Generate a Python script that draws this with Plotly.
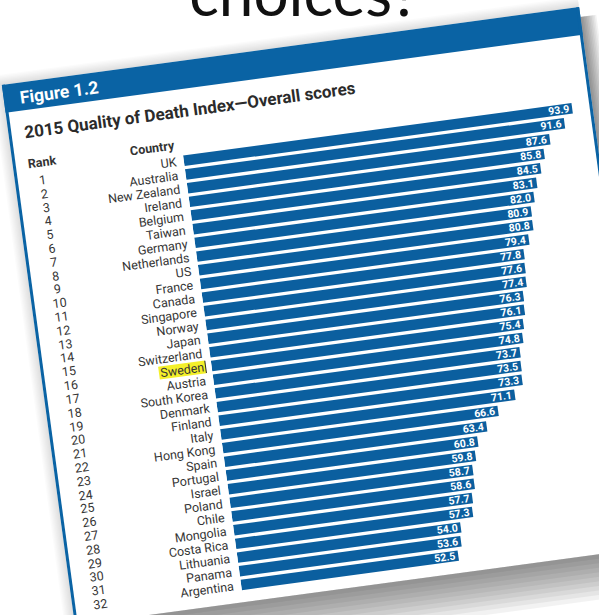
import math
import plotly.graph_objects as go

# ---------------- data ----------------
countries = ["UK", "Australia", "New Zealand", "Ireland", "Belgium", "Taiwan", "Germany",
             "Netherlands", "US", "France", "Canada", "Singapore", "Norway", "Japan",
             "Switzerland", "Sweden", "Austria", "South Korea", "Denmark", "Finland", "Italy",
             "Hong Kong", "Spain", "Portugal", "Israel", "Poland", "Chile", "Mongolia",
             "Costa Rica", "Lithuania", "Panama", "Argentina"]
scores = [93.9, 91.6, 87.6, 85.8, 84.5, 83.1, 82.0, 80.9, 80.8, 79.4, 77.8, 77.6, 77.4, 76.3,
          76.1, 75.4, 74.8, 73.7, 73.5, 73.3, 71.1, 66.6, 63.4, 60.8, 59.8, 58.7, 58.6, 57.7,
          57.3, 54.0, 53.6, 52.5]
ranks = ["1", "2", "3", "4", "5", "6", "7", "8", "9", "10", "11", "12", "13", "14", "15", "16",
         "17", "18", "19", "20", "21", "22", "23", "24", "25", "26", "27", "28", "29", "30",
         "31", "32"]
highlight = "Sweden"

fig_title = "2015 Quality of Death Index\u2014Overall scores"
figure_label = "Figure 1.2"
slide_text = "choices?"

# ---------------- layout constants ----------------
W, H = 700, 760
CX0, CY0 = 80, 140          # card top-left (unrotated frame)
CW, CH = 582, 545
XMAX = 98
PXU = 4.17
ROW = 13.97
ML = CX0 + 170
PW = XMAX * PXU
MT = CY0 + 90
PH = len(countries) * ROW
MR = W - ML - PW
MB = H - MT - PH

ANG = 7.7
BLUE = "#0b5f9f"
HEAD = "#0a63a4"
TXT = "#353535"
FONT = "Roboto"


def xp(X):
    return (X - ML) / PW


def yp(Y):
    return 1 - (Y - MT) / PH


# transform so that card corner lands at the photographed position
c, s = math.cos(math.radians(ANG)), math.sin(math.radians(ANG))
q0 = (2, 85)
rp = (c * CX0 + s * CY0, -s * CX0 + c * CY0)
T = (q0[0] - rp[0], q0[1] - rp[1])


def unrot(qx, qy):
    dx, dy = qx - T[0], qy - T[1]
    return (c * dx - s * dy, s * dx + c * dy)


fig = go.Figure()
fig.add_trace(go.Bar(
    x=scores, y=countries, orientation="h",
    marker=dict(color=BLUE, line=dict(width=0)),
    texttemplate="%{x:.1f}", textposition="inside", insidetextanchor="end",
    textangle=0, constraintext="none",
    textfont=dict(color="white", size=10.5, family=FONT, weight="bold"),
    hoverinfo="skip",
))

shapes = []
# shadows
for k in range(1, 11):
    shapes.append(dict(type="rect", xref="paper", yref="paper", layer="below",
                       x0=xp(CX0 + 2), x1=xp(CX0 + CW + k * 1.6),
                       y0=yp(CY0 + 10), y1=yp(CY0 + CH + k * 4.5),
                       fillcolor="rgba(0,0,0,0.05)", line=dict(width=0)))
for k in range(1, 9):
    shapes.append(dict(type="rect", xref="paper", yref="paper", layer="below",
                       x0=xp(CX0 - k * 1.3), x1=xp(CX0 + CW),
                       y0=yp(CY0 - k * 1.3), y1=yp(CY0 + CH),
                       fillcolor="rgba(0,0,0,0.015)", line=dict(width=0)))
# card
shapes.append(dict(type="rect", xref="paper", yref="paper", layer="below",
                   x0=xp(CX0), x1=xp(CX0 + CW), y0=yp(CY0), y1=yp(CY0 + CH),
                   fillcolor="white", line=dict(width=0)))
shapes.append(dict(type="rect", xref="paper", yref="paper", layer="below",
                   x0=xp(CX0), x1=xp(CX0 + CW), y0=yp(CY0), y1=yp(CY0 + 28),
                   fillcolor=HEAD, line=dict(width=0)))
shapes.append(dict(type="rect", xref="paper", yref="paper", layer="below",
                   x0=xp(CX0), x1=xp(CX0 + 3), y0=yp(CY0), y1=yp(CY0 + CH),
                   fillcolor=HEAD, line=dict(width=0)))
shapes.append(dict(type="rect", xref="paper", yref="paper", layer="below",
                   x0=xp(CX0 + CW - 3), x1=xp(CX0 + CW), y0=yp(CY0), y1=yp(CY0 + CH),
                   fillcolor=HEAD, line=dict(width=0)))
# highlight behind Sweden label
hi = countries.index(highlight)
shapes.append(dict(type="rect", xref="paper", yref="y", layer="below",
                   x0=xp(CX0 + 117), x1=xp(CX0 + 164), y0=hi - 0.47, y1=hi + 0.47,
                   fillcolor="#f4f02a", line=dict(width=0)))
shapes.append(dict(type="line", xref="paper", yref="y", layer="above",
                   x0=xp(CX0 + 164), x1=xp(CX0 + 164), y0=hi - 0.45, y1=hi + 0.45,
                   line=dict(color="#222", width=1)))

ann = []
ann.append(dict(text="<b>" + figure_label + "</b>", xref="paper", yref="paper",
                x=xp(CX0 + 14), y=yp(CY0 + 15), xanchor="left", yanchor="middle",
                showarrow=False, font=dict(family=FONT, size=17.5, color="white")))
ann.append(dict(text="<b>" + fig_title + "</b>", xref="paper", yref="paper",
                x=xp(CX0 + 14), y=yp(CY0 + 50), xanchor="left", yanchor="middle",
                showarrow=False, font=dict(family=FONT, size=17, color="#2b2b2b")))
ann.append(dict(text="<b>Rank</b>", xref="paper", yref="paper",
                x=xp(CX0 + 30), y=yp(CY0 + 81), xanchor="center", yanchor="middle",
                showarrow=False, font=dict(family=FONT, size=12.5, color="#333")))
ann.append(dict(text="<b>Country</b>", xref="paper", yref="paper",
                x=xp(CX0 + 165), y=yp(CY0 + 82), xanchor="right", yanchor="middle",
                showarrow=False, font=dict(family=FONT, size=12.5, color="#333")))
for r, cty in zip(ranks, countries):
    ann.append(dict(text=r, xref="paper", yref="y", x=xp(CX0 + 28), y=cty,
                    xanchor="center", yanchor="middle", showarrow=False,
                    font=dict(family=FONT, size=12.5, color=TXT)))
cx, cy = unrot(304, -8)
ann.append(dict(text=slide_text, xref="paper", yref="paper", x=xp(cx), y=yp(cy),
                xanchor="center", yanchor="middle", textangle=ANG, showarrow=False,
                font=dict(family="Lato", size=62, color="#111")))

fig.update_layout(
    width=W, height=H,
    margin=dict(l=ML, r=MR, t=MT, b=MB, pad=0, autoexpand=False),
    paper_bgcolor="white", plot_bgcolor="rgba(0,0,0,0)",
    showlegend=False, bargap=0.24,
    shapes=shapes, annotations=ann,
    xaxis=dict(range=[0, XMAX], visible=False, fixedrange=True),
    yaxis=dict(autorange="reversed", showgrid=False, zeroline=False, showline=False,
               tickmode="array", tickvals=countries, ticktext=countries,
               ticks="outside", ticklen=4, tickcolor="rgba(0,0,0,0)",
               tickfont=dict(family=FONT, size=12.5, color=TXT), fixedrange=True,
               automargin=False),
)

post = ("var gd=document.getElementById('{plot_id}');"
        "document.documentElement.style.overflow='hidden';"
        "document.body.style.margin='0';document.body.style.overflow='hidden';"
        "document.body.style.background='#ffffff';"
        "gd.style.position='absolute';gd.style.left='0px';gd.style.top='0px';"
        "gd.style.transformOrigin='0 0';"
        "gd.style.transform='translate(%.2fpx,%.2fpx) rotate(-%.2fdeg)';" % (T[0], T[1], ANG))

fig.write_html("out.html", config={"displayModeBar": False}, post_script=post)
